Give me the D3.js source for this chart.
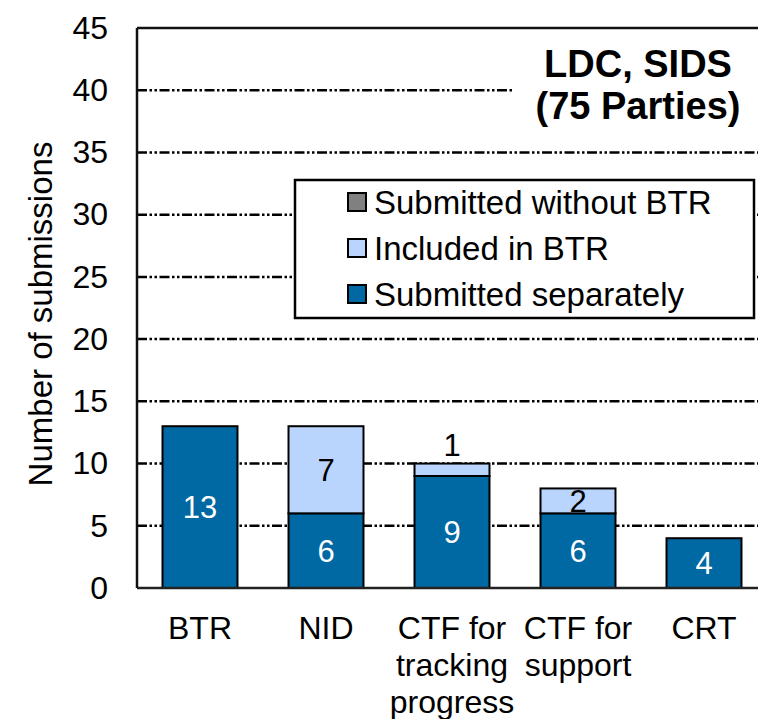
<!DOCTYPE html>
<html lang="en">
<head>
<meta charset="utf-8">
<title>LDC, SIDS submissions</title>
<script src="https://cdn.jsdelivr.net/npm/d3@7"></script>
<style>
  body { margin: 0; background: #fff; }
  text { font-family: "Liberation Sans", Arial, sans-serif; }
</style>
</head>
<body>
<svg id="chart" width="758" height="719"></svg>
<script>
// Data
var categories = ["BTR", "NID", "CTF tracking", "CTF support", "CRT"];
var categoryLabels = [["BTR"], ["NID"], ["CTF for", "tracking", "progress"], ["CTF for", "support"], ["CRT"]];
var separately = [13, 6, 9, 6, 4];
var included = [0, 7, 1, 2, 0];
var withoutBtr = [0, 0, 0, 0, 0];
var yTicks = [0, 5, 10, 15, 20, 25, 30, 35, 40, 45];
var seriesNames = ["Submitted without BTR", "Included in BTR", "Submitted separately"];

var colors = {
  separately: "#0068a2",
  included: "#b9d5fd",
  without: "#808080"
};

var svg = d3.select("#chart");

// Plot area
var plotLeft = 137, plotTop = 28, plotBottom = 588, plotRight = 767;

var x = d3.scaleBand()
  .domain(categories)
  .range([plotLeft, plotRight])
  .paddingInner(0.405)
  .paddingOuter(0.2025);

var y = d3.scaleLinear()
  .domain([0, 45])
  .range([plotBottom, plotTop]);

// Gridlines (dash-dot-dot)
svg.append("g")
  .selectAll("line")
  .data(yTicks.filter(function(d) { return d > 0 && d < 45; }))
  .enter()
  .append("line")
  .attr("x1", plotLeft)
  .attr("x2", 758)
  .attr("y1", function(d) { return y(d); })
  .attr("y2", function(d) { return y(d); })
  .attr("stroke", "#000")
  .attr("stroke-width", 2.5)
  .attr("stroke-dasharray", "10,2.5,2.5,2.5,2.5,2.5");

// Title box hides the gridline behind it
svg.append("rect")
  .attr("x", 514).attr("y", 45)
  .attr("width", 244).attr("height", 85)
  .attr("fill", "#fff");

svg.append("text")
  .attr("x", 638).attr("y", 77)
  .attr("text-anchor", "middle")
  .attr("font-size", 38).attr("font-weight", "bold")
  .text("LDC, SIDS");
svg.append("text")
  .attr("x", 638).attr("y", 119)
  .attr("text-anchor", "middle")
  .attr("font-size", 38).attr("font-weight", "bold")
  .text("(75 Parties)");

// Stacked bars
var rows = categories.map(function(c, i) {
  return { cat: c, separately: separately[i], included: included[i], without: withoutBtr[i] };
});
var stack = d3.stack().keys(["separately", "included", "without"]);
var layers = stack(rows);

svg.append("g")
  .selectAll("g")
  .data(layers)
  .enter()
  .append("g")
  .attr("fill", function(d) { return colors[d.key]; })
  .selectAll("rect")
  .data(function(d) { return d.filter(function(s) { return s[1] - s[0] > 0; }); })
  .enter()
  .append("rect")
  .attr("x", function(d) { return x(d.data.cat); })
  .attr("width", x.bandwidth())
  .attr("y", function(d) { return y(d[1]); })
  .attr("height", function(d) { return y(d[0]) - y(d[1]); })
  .attr("stroke", "#000")
  .attr("stroke-width", 2);

// Value labels
layers.forEach(function(layer) {
  layer.forEach(function(s) {
    var v = s[1] - s[0];
    if (v <= 0) return;
    var h = y(s[0]) - y(s[1]);
    var cx = x(s.data.cat) + x.bandwidth() / 2;
    var t = svg.append("text")
      .attr("x", cx)
      .attr("text-anchor", "middle")
      .attr("font-size", 31)
      .attr("fill", layer.key === "separately" ? "#fff" : "#000")
      .text(v);
    if (h < 20) {
      t.attr("y", y(s[1]) - 8);
    } else {
      t.attr("y", (y(s[0]) + y(s[1])) / 2).attr("dy", "0.36em");
    }
  });
});

// Frame: top line, left axis, bottom axis
svg.append("line")
  .attr("x1", plotLeft).attr("x2", 758)
  .attr("y1", plotTop).attr("y2", plotTop)
  .attr("stroke", "#111").attr("stroke-width", 2.5);
svg.append("line")
  .attr("x1", plotLeft).attr("x2", 758)
  .attr("y1", plotBottom).attr("y2", plotBottom)
  .attr("stroke", "#222").attr("stroke-width", 2.5);
svg.append("line")
  .attr("x1", plotLeft).attr("x2", plotLeft)
  .attr("y1", plotTop).attr("y2", plotBottom)
  .attr("stroke", "#111").attr("stroke-width", 2.5);

// Y axis labels
var yAxis = svg.append("g")
  .attr("transform", "translate(" + plotLeft + ",0)")
  .call(d3.axisLeft(y).tickValues(yTicks).tickSize(0).tickPadding(29));
yAxis.select(".domain").remove();
yAxis.selectAll("text")
  .attr("font-size", 32)
  .attr("font-family", "'Liberation Sans', Arial, sans-serif")
  .attr("fill", "#000");

// Y axis title
svg.append("text")
  .attr("transform", "translate(52,314) rotate(-90)")
  .attr("text-anchor", "middle")
  .attr("font-size", 33)
  .text("Number of submissions");

// X axis labels
var xl = svg.append("g")
  .selectAll("text")
  .data(categories)
  .enter()
  .append("text")
  .attr("x", function(d) { return x(d) + x.bandwidth() / 2; })
  .attr("y", 639)
  .attr("text-anchor", "middle")
  .attr("font-size", 32);
xl.each(function(d, i) {
  var el = d3.select(this);
  categoryLabels[i].forEach(function(line, j) {
    el.append("tspan")
      .attr("x", x(d) + x.bandwidth() / 2)
      .attr("dy", j === 0 ? 0 : 37)
      .text(line);
  });
});

// Legend
var legend = svg.append("g");
legend.append("rect")
  .attr("x", 295).attr("y", 180)
  .attr("width", 459).attr("height", 138)
  .attr("fill", "#fff")
  .attr("stroke", "#000").attr("stroke-width", 2.5);
var legendColors = [colors.without, colors.included, colors.separately];
var legendRows = [202, 248, 294];
seriesNames.forEach(function(name, i) {
  legend.append("rect")
    .attr("x", 348).attr("y", legendRows[i] - 9)
    .attr("width", 18).attr("height", 18)
    .attr("fill", legendColors[i])
    .attr("stroke", "#000").attr("stroke-width", 2);
  legend.append("text")
    .attr("x", 374).attr("y", legendRows[i])
    .attr("dy", "0.36em")
    .attr("font-size", 33)
    .text(name);
});
</script>
</body>
</html>
